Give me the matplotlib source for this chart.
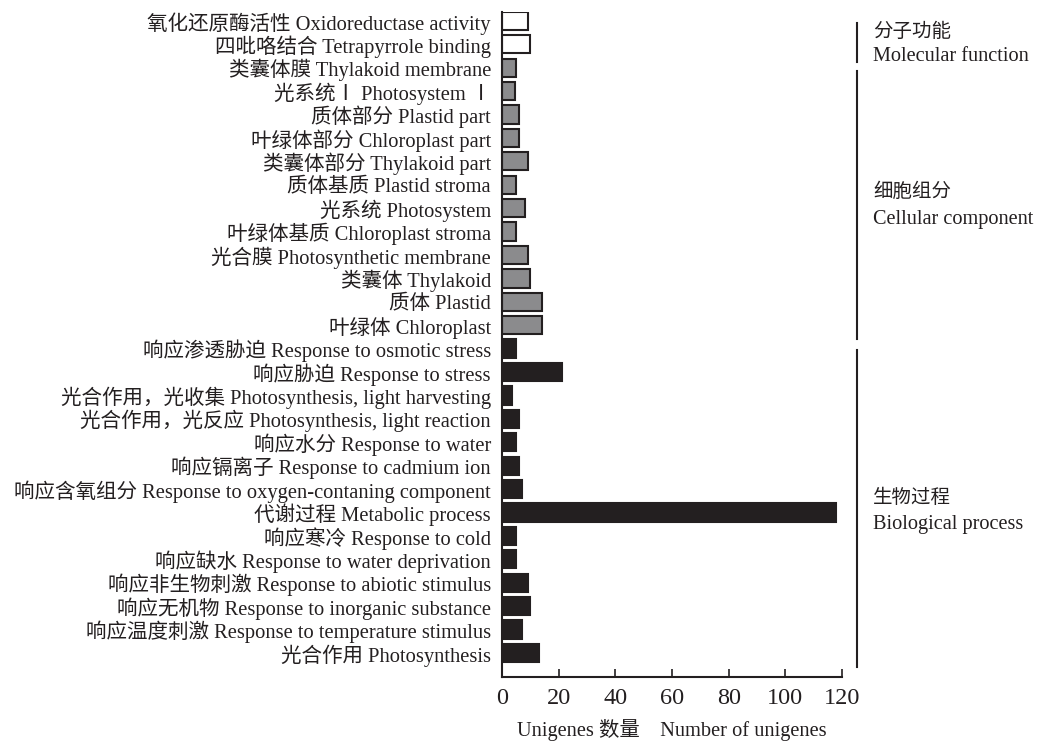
import matplotlib
matplotlib.use("Agg")
import matplotlib.pyplot as plt
import matplotlib.transforms as mtransforms

plt.rcParams["font.family"] = ["Liberation Serif", "Noto Sans CJK SC"]

# GO terms, top to bottom
terms = [
    "氧化还原酶活性 Oxidoreductase activity",
    "四吡咯结合 Tetrapyrrole binding",
    "类囊体膜 Thylakoid membrane",
    "光系统Ⅰ Photosystem Ⅰ",
    "质体部分 Plastid part",
    "叶绿体部分 Chloroplast part",
    "类囊体部分 Thylakoid part",
    "质体基质 Plastid stroma",
    "光系统 Photosystem",
    "叶绿体基质 Chloroplast stroma",
    "光合膜 Photosynthetic membrane",
    "类囊体 Thylakoid",
    "质体 Plastid",
    "叶绿体 Chloroplast",
    "响应渗透胁迫 Response to osmotic stress",
    "响应胁迫 Response to stress",
    "光合作用，光收集 Photosynthesis, light harvesting",
    "光合作用，光反应 Photosynthesis, light reaction",
    "响应水分 Response to water",
    "响应镉离子 Response to cadmium ion",
    "响应含氧组分 Response to oxygen-contaning component",
    "代谢过程 Metabolic process",
    "响应寒冷 Response to cold",
    "响应缺水 Response to water deprivation",
    "响应非生物刺激 Response to abiotic stimulus",
    "响应无机物 Response to inorganic substance",
    "响应温度刺激 Response to temperature stimulus",
    "光合作用 Photosynthesis",
]
counts = [9, 10, 5, 4.5, 6, 6, 9, 5, 8, 5, 9, 10, 14, 14,
          5, 21, 3.5, 6, 5, 6, 7, 118, 5, 5, 9, 10, 7, 13]
groups = ["MF"] * 2 + ["CC"] * 12 + ["BP"] * 14

group_names = {
    "MF": ("分子功能", "Molecular function"),
    "CC": ("细胞组分", "Cellular component"),
    "BP": ("生物过程", "Biological process"),
}
group_fill = {"MF": "white", "CC": "#8b8b8d", "BP": "#231f20"}
# bracket extents in row units (start, end) and label rows (cjk, english)
group_bracket = {"MF": (0.07, 1.74), "CC": (2.14, 13.6), "BP": (14.06, 27.6)}
group_label = {"MF": (0.45, 1.5), "CC": (7.3, 8.47), "BP": (20.38, 21.5)}

xticks = [0, 20, 40, 60, 80, 100, 120]

fig = plt.figure(figsize=(10.37, 7.42), dpi=100)
ax = fig.add_axes([502 / 1037, 1 - 677 / 742, 340 / 1037, 665 / 742])

ink = "#231f20"
ypos = list(range(len(terms)))
ax.barh(ypos, counts, height=0.78,
        color=[group_fill[g] for g in groups],
        edgecolor=ink, linewidth=1.5)

ax.set_xlim(0, 120)
ax.set_ylim(27 + 1.03, -0.38)
ax.set_yticks(ypos)
ax.set_yticklabels(terms, fontsize=14.8, color=ink)
ax.tick_params(axis="y", length=0, pad=8)
ax.set_xticks(xticks)
ax.set_xticklabels([str(t) for t in xticks], fontsize=17.5, color=ink)
ax.tick_params(axis="x", direction="in", length=6, width=1.2, color=ink, pad=8)

for side in ("top", "right"):
    ax.spines[side].set_visible(False)
for side in ("left", "bottom"):
    ax.spines[side].set_color(ink)
    ax.spines[side].set_linewidth(1.5)

ax.set_xlabel("Unigenes 数量    Number of unigenes", fontsize=14.7,
              color=ink, labelpad=7)

trans = mtransforms.blended_transform_factory(ax.transAxes, ax.transData)
for g, (cn, en) in group_names.items():
    y0, y1 = group_bracket[g]
    ax.plot([1.044, 1.044], [y0, y1], transform=trans, color=ink,
            linewidth=1.5, clip_on=False)
    ly_cn, ly_en = group_label[g]
    ax.text(1.091, ly_cn, cn, transform=trans, fontsize=14, color=ink,
            ha="left", va="center")
    ax.text(1.091, ly_en, en, transform=trans, fontsize=14.6, color=ink,
            ha="left", va="center")

fig.savefig("out.png", dpi=100)
